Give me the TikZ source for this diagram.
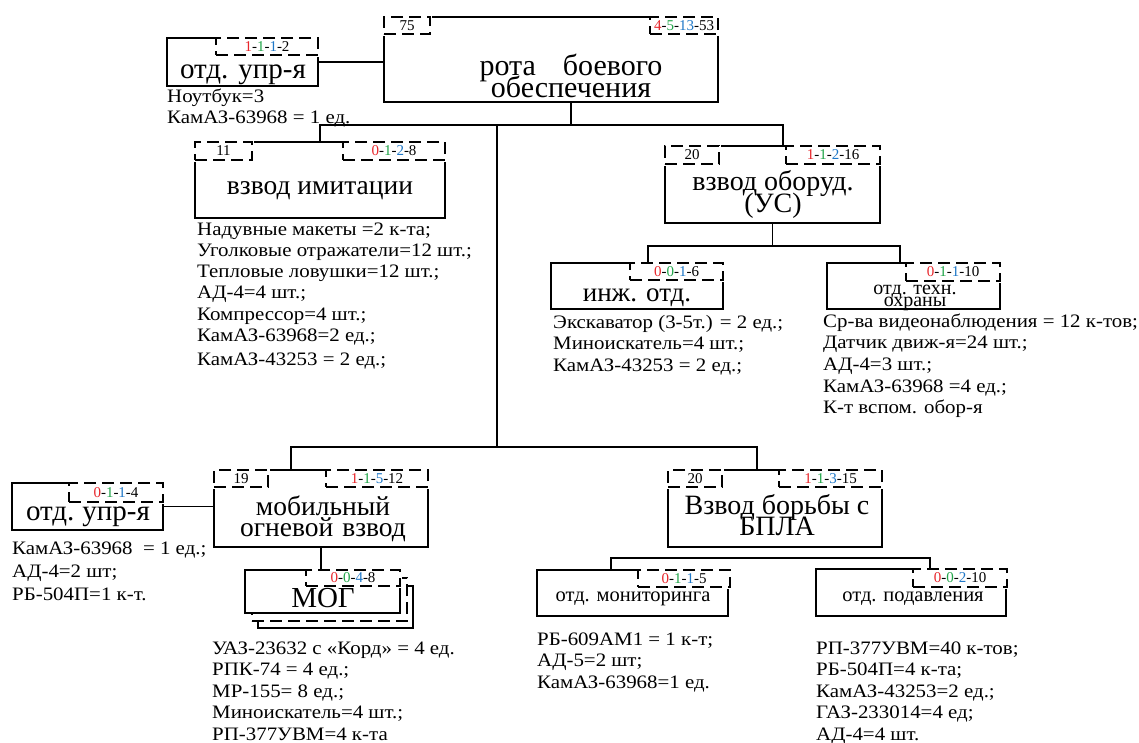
\documentclass[tikz,border=0pt]{standalone}
\usepackage{fontspec}
\setmainfont{Liberation Serif}
\newfontfamily\lstfont{Liberation Serif}[FakeStretch=1.1]
\usetikzlibrary{calc}
\definecolor{nr}{HTML}{E8262B}
\definecolor{ng}{HTML}{22A64A}
\definecolor{nb}{HTML}{1F78C8}
\newcommand\fsz[2]{\fontsize{#1}{#2}\selectfont\lineskiplimit=-100pt\lineskip=0pt}
\newcommand\nums[4]{\textcolor{nr}{#1}-\textcolor{ng}{#2}-\textcolor{nb}{#3}-#4}
\pgfdeclarelayer{bg}
\pgfsetlayers{bg,main}
\begin{document}
\begin{tikzpicture}[x=1pt,y=-1pt,
  box/.style={draw, line width=1.8pt, fill=white, inner sep=0pt},
  tabbox/.style={draw, line width=1.8pt, dash pattern=on 12pt off 6pt, fill=white, inner sep=0pt, font=\fsz{15}{17}, preaction={draw=white, line width=3pt, solid}},
  title/.style={inner sep=0pt, align=center},
  list/.style={inner sep=0pt, align=left, anchor=base west},
  conn/.style={line width=1.8pt}]
\useasboundingbox (0,0) rectangle (1139,742);

% ---- company
\node[box, minimum width=334, minimum height=85] (main) at (551,59.5) {};
\node[tabbox, minimum width=46, minimum height=17] (mainTL) at (407,25.5) {75};
\node[tabbox, minimum width=68, minimum height=17] (mainTR) at (684,25.5) {\nums{4}{5}{13}{53}};
\node[title, font=\fsz{30}{22}] (mainT) at (571,76) {рота\hspace{27pt}боевого\\обеспечения};

% ---- top control section
\node[box, minimum width=151, minimum height=48] (u1) at (242.5,62) {};
\node[tabbox, minimum width=102, minimum height=17] (u1TR) at (267,46.5) {\nums{1}{1}{1}{2}};
\node[title, font=\fsz{29}{30}, anchor=base] (u1T) at (243,78) {отд.\hspace{10pt}упр-я};
\node[list, font={\lstfont\fsz{19}{21}}] (u1L) at (167,123) {Ноутбук=3\\КамАЗ-63968 = 1 ед.};

% ---- imitation platoon
\node[box, minimum width=250, minimum height=76] (imit) at (320,180) {};
\node[tabbox, minimum width=57, minimum height=18] (imitTL) at (223.5,151) {11};
\node[tabbox, minimum width=102, minimum height=18] (imitTR) at (394,151) {\nums{0}{1}{2}{8}};
\node[title, font=\fsz{27.5}{30}, anchor=base] (imitT) at (320,194) {взвод имитации};
\node[list, font={\lstfont\fsz{19}{21.3}}] (imitL) at (197,365.5) {Надувные макеты =2 к-та;\\Уголковые отражатели=12 шт.;\\Тепловые ловушки=12 шт.;\\АД-4=4 шт.;\\Компрессор=4 шт.;\\КамАЗ-63968=2 ед.;\\[2.7pt]КамАЗ-43253 = 2 ед.;};

% ---- equipment platoon
\node[box, minimum width=215, minimum height=77] (oborud) at (772.5,184.5) {};
\node[tabbox, minimum width=54, minimum height=18] (oborudTL) at (692,155) {20};
\node[tabbox, minimum width=94, minimum height=18] (oborudTR) at (833,155) {\nums{1}{1}{2}{16}};
\node[title, font=\fsz{28}{22}] (oborudT) at (773,194) {взвод оборуд.\\(УС)};

% ---- engineer section
\node[box, minimum width=172, minimum height=46] (inj) at (637,286) {};
\node[tabbox, minimum width=93, minimum height=17] (injTR) at (676.5,271.5) {\nums{0}{0}{1}{6}};
\node[title, font=\fsz{27}{30}, anchor=base] (injT) at (637,301) {инж. отд.};
\node[list, font={\lstfont\fsz{19}{21.5}}] (injL) at (553,371) {Экскаватор (3-5т.) = 2 ед.;\\Миноискатель=4 шт.;\\КамАЗ-43253 = 2 ед.;};

% ---- technical guard section
\node[box, minimum width=173, minimum height=46] (tex) at (913.5,286) {};
\node[tabbox, minimum width=94, minimum height=18] (texTR) at (953,272) {\nums{0}{1}{1}{10}};
\node[title, font=\fsz{20}{12.5}] (texT) at (915,298) {отд. техн.\\охраны};
\node[list, font={\lstfont\fsz{19}{21.7}}] (texL) at (823,413.8) {Ср-ва видеонаблюдения = 12 к-тов;\\Датчик движ-я=24 шт.;\\АД-4=3 шт.;\\КамАЗ-63968 =4 ед.;\\К-т вспом. обор-я};

% ---- bottom control section
\node[box, minimum width=151, minimum height=47] (u2) at (87.5,506.5) {};
\node[tabbox, minimum width=94, minimum height=19] (u2TR) at (116,492.5) {\nums{0}{1}{1}{4}};
\node[title, font=\fsz{29}{30}, anchor=base] (u2T) at (88,520) {отд.\hspace{8pt}упр-я};
\node[list, font={\lstfont\fsz{19}{23}}] (u2L) at (12,600) {КамАЗ-63968\ \ = 1 ед.;\\АД-4=2 шт;\\РБ-504П=1 к-т.};

% ---- mobile fire platoon
\node[box, minimum width=214, minimum height=77] (mob) at (321,508.5) {};
\node[tabbox, minimum width=54, minimum height=17] (mobTL) at (241,478.5) {19};
\node[tabbox, minimum width=102, minimum height=17] (mobTR) at (377,478.5) {\nums{1}{1}{5}{12}};
\node[title, font=\fsz{27.5}{21}] (mobT) at (323,519) {мобильный\\огневой\hspace{9pt}взвод};

% ---- MOG (stacked)
\node[box, minimum width=155, minimum height=42] (mogB) at (335.5,607) {};
\node[box, dash pattern=on 12pt off 6pt, minimum width=155, minimum height=43] (mogD) at (329.5,599.5) {};
\node[box, minimum width=155, minimum height=43] (mog) at (322.5,591.5) {};
\node[tabbox, minimum width=94, minimum height=16] (mogTR) at (353,578) {\nums{0}{0}{4}{8}};
\node[title, font=\fsz{29}{30}, anchor=base] (mogT) at (323,607) {МОГ};
\node[list, font={\lstfont\fsz{19}{21.5}}] (mogL) at (212,740) {УАЗ-23632 с «Корд» = 4 ед.\\РПК-74 = 4 ед.;\\МР-155= 8 ед.;\\Миноискатель=4 шт.;\\РП-377УВМ=4 к-та};

% ---- anti-UAV platoon
\node[box, minimum width=214, minimum height=77] (bpla) at (775,508.5) {};
\node[tabbox, minimum width=54, minimum height=17] (bplaTL) at (695,478.5) {20};
\node[tabbox, minimum width=103, minimum height=17] (bplaTR) at (830.5,478.5) {\nums{1}{1}{3}{15}};
\node[title, font=\fsz{28}{21}] (bplaT) at (777,515.5) {Взвод борьбы с\\БПЛА};

% ---- monitoring section
\node[box, minimum width=191, minimum height=46] (mon) at (632.5,593) {};
\node[tabbox, minimum width=92, minimum height=17] (monTR) at (684,578.5) {\nums{0}{1}{1}{5}};
\node[title, font=\fsz{20.5}{22}, anchor=base] (monT) at (633,601) {отд. мониторинга};
\node[list, font={\lstfont\fsz{19}{21.5}}] (monL) at (537,688) {РБ-609АМ1 = 1 к-т;\\АД-5=2 шт;\\КамАЗ-63968=1 ед.};

% ---- suppression section
\node[box, minimum width=190, minimum height=47] (pod) at (911,592.5) {};
\node[tabbox, minimum width=94, minimum height=18] (podTR) at (960,578) {\nums{0}{0}{2}{10}};
\node[title, font=\fsz{20.5}{22}, anchor=base] (podT) at (913,601) {отд. подавления};
\node[list, font={\lstfont\fsz{19}{21.5}}] (podL) at (816,740) {РП-377УВМ=40 к-тов;\\РБ-504П=4 к-та;\\КамАЗ-43253=2 ед.;\\ГАЗ-233014=4 ед;\\АД-4=4 шт.};

% ---- connectors
\coordinate (j1) at (571,125);
\coordinate (j2) at (497,125);
\coordinate (j3) at (783,125);
\coordinate (j4) at (497,447);
\coordinate (k1) at (291,447);
\coordinate (k2) at (757,447);
\coordinate (m1) at (648,246);
\coordinate (m2) at (900,246);
\coordinate (n1) at (611,558);
\coordinate (n2) at (930,558);
\begin{pgfonlayer}{bg}
\draw[conn] (u1.east) -- (u1.east -| main.west);
\draw[conn] (j1 |- main.south) -- (j1);
\draw[conn] (imit.north) -- (imit.north |- j1) -- (j3) -- (j3 |- oborud.north);
\draw[conn] (j2) -- (j4);
\draw[conn] (k1 |- mob.north) -- (k1) -- (k2) -- (k2 |- bpla.north);
\draw[conn] (oborud.south) -- (oborud.south |- m1);
\draw[conn] (m1 |- inj.north) -- (m1) -- (m2) -- (m2 |- tex.north);
\draw[conn] (u2.east) -- (u2.east -| mob.west);
\draw[conn] (mob.south) -- (mob.south |- mog.north);
\draw[conn] (n1 |- mon.north) -- (n1) -- (n2) -- (n2 |- pod.north);
\end{pgfonlayer}
\end{tikzpicture}
\end{document}
